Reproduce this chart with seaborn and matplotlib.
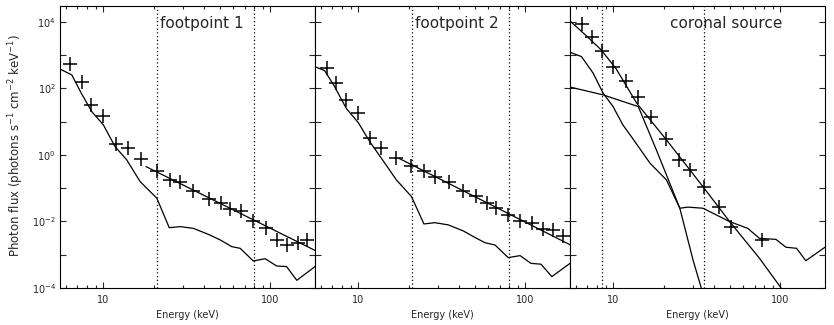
import math
import matplotlib
matplotlib.use("Agg")
import matplotlib.pyplot as plt
import seaborn as sns
from matplotlib.ticker import LogLocator, FuncFormatter, NullFormatter, NullLocator

# ---- footpoint 1 ----
fp1_energy = [6.3, 7.5, 8.4, 10.0, 11.9, 14.0, 16.9, 20.9, 25.1, 28.8, 34.6, 43.0,
              50.5, 57.4, 66.5, 79.1, 93.8, 109, 126, 146, 165]
fp1_flux = [546, 153, 32, 14.9, 2.14, 1.63, 0.74, 0.32, 0.177, 0.15, 0.083, 0.0485,
            0.035, 0.0234, 0.020, 0.0106, 0.0064, 0.0028, 0.0020, 0.0022, 0.0028]
fp1_fit_energy = [18, 185]
fp1_fit_flux = [0.445, 0.00135]
fp1_bkg_energy = [5.5, 6.47, 7.43, 8.53, 10.0, 11.75, 13.8, 16.6, 20.9, 24.8, 28.8,
                  34.6, 42.5, 50, 58.7, 65.9, 79, 93, 109, 125, 144, 185]
fp1_bkg_flux = [380, 255, 67, 20, 8, 1.78, 0.71, 0.158, 0.05, 0.0065, 0.007, 0.0062,
                0.0041, 0.0028, 0.00175, 0.00156, 0.00065, 0.00076, 0.00046, 0.00044,
                0.00017, 0.00044]

# ---- footpoint 2 ----
fp2_energy = [6.5, 7.38, 8.47, 10.0, 11.7, 13.7, 16.9, 20.8, 24.6, 28.7, 34.8, 42.5,
              50.6, 58.6, 66.7, 78.9, 93, 109, 127, 146, 167]
fp2_flux = [405, 150, 45, 18.7, 3.2, 1.6, 0.79, 0.48, 0.33, 0.21, 0.158, 0.083,
            0.058, 0.035, 0.025, 0.0157, 0.0106, 0.0092, 0.0058, 0.0055, 0.0037]
fp2_fit_energy = [17.5, 185]
fp2_fit_flux = [0.79, 0.0020]
fp2_bkg_energy = [5.47, 6.28, 7.21, 8.47, 10.0, 11.7, 14.1, 16.9, 20.8, 24.7, 28.7,
                  34.5, 42.5, 49.9, 57.3, 65.8, 78.9, 93, 108, 124, 144, 185]
fp2_bkg_flux = [453, 343, 113, 25, 9.3, 2.5, 0.66, 0.177, 0.056, 0.0084, 0.0092,
                0.0079, 0.0052, 0.0033, 0.0023, 0.00196, 0.00082, 0.00094, 0.00055,
                0.00052, 0.00022, 0.00055]

# ---- coronal source ----
cs_energy = [6.48, 7.43, 8.53, 9.9, 11.9, 14.0, 16.7, 20.8, 24.8, 28.9, 34.8, 42.8,
             50.8, 77.3]
cs_flux = [8500, 3600, 1340, 435, 168, 57, 14.2, 3.03, 0.71, 0.355, 0.111, 0.0279,
           0.007, 0.0028]
cs_total_energy = [5.52, 6.87, 8.45, 10.4, 13.8, 20.8, 34.4, 49.7, 75, 101, 110]
cs_total_flux = [10500, 3870, 1440, 385, 35.9, 2.83, 0.111, 0.0099, 0.00078, 1e-4, 5.5e-5]
cs_comp_energy = [5.37, 8.67, 14.1, 18.1, 25, 30, 33.6, 35]
cs_comp_flux = [113, 64, 28.4, 1.41, 0.025, 0.00069, 1e-4, 3e-5]
cs_bkg_energy = [5.37, 6.44, 7.57, 8.68, 9.96, 11.4, 12.6, 16.6, 20.8, 25, 28, 34.4,
                 49.7, 63.8, 75, 94, 108, 125, 142, 185]
cs_bkg_flux = [1280, 904, 287, 72, 28.4, 8, 4, 0.56, 0.177, 0.025, 0.027, 0.025,
               0.0099, 0.0062, 0.0031, 0.0029, 0.00168, 0.00156, 0.00066, 0.00168]

panel_titles = ["footpoint 1", "footpoint 2", "coronal source"]
fit_ranges = [[21, 80], [21, 80], [8.5, 35]]

# style: IDL-like, ticks inward on every side
sns.set_style("ticks", rc={
    "xtick.direction": "in", "ytick.direction": "in",
    "xtick.top": True, "ytick.right": True,
    "axes.linewidth": 1.0, "axes.edgecolor": "black",
})
plt.rcParams["font.family"] = ["DejaVu Sans"]
plt.rcParams["mathtext.default"] = "regular"

fig = plt.figure(figsize=(8.34, 3.25), dpi=100)
W, H = 834, 325

panels = [
    (fp1_energy, fp1_flux, [(fp1_fit_energy, fp1_fit_flux), (fp1_bkg_energy, fp1_bkg_flux)]),
    (fp2_energy, fp2_flux, [(fp2_fit_energy, fp2_fit_flux), (fp2_bkg_energy, fp2_bkg_flux)]),
    (cs_energy, cs_flux, [(cs_total_energy, cs_total_flux), (cs_comp_energy, cs_comp_flux),
                          (cs_bkg_energy, cs_bkg_flux)]),
]


def ylab(v, pos):
    e = int(round(math.log10(v)))
    return r"$10^{%d}$" % e if e % 2 == 0 else ""


for i, (en, fl, lines) in enumerate(panels):
    left_px = 60 + 255 * i
    ax = fig.add_axes([left_px / W, 37 / H, 255 / W, 282 / H])
    ax.set_xscale("log")
    ax.set_yscale("log")
    ax.set_xlim(5.5, 185)
    ax.set_ylim(1e-4, 3e4)

    for le, lf in lines:
        sns.lineplot(x=le, y=lf, ax=ax, color="black", linewidth=0.9,
                     estimator=None, sort=False)
    sns.scatterplot(x=en, y=fl, ax=ax, marker="+", s=90, color="black",
                    linewidth=1.1, zorder=5)
    for xv in fit_ranges[i]:
        ax.axvline(xv, color="black", linestyle=(0, (1, 2)), linewidth=0.9)

    ax.text(0.392, 0.937, panel_titles[i], transform=ax.transAxes,
            fontsize=11, ha="left", va="center")

    ax.yaxis.set_major_locator(LogLocator(base=10, numticks=20))
    ax.yaxis.set_minor_locator(NullLocator())
    if i == 0:
        ax.yaxis.set_major_formatter(FuncFormatter(ylab))
    else:
        ax.yaxis.set_major_formatter(NullFormatter())
    ax.xaxis.set_major_locator(LogLocator(base=10))
    ax.xaxis.set_minor_locator(LogLocator(base=10, subs=range(2, 10)))
    ax.xaxis.set_minor_formatter(NullFormatter())
    ax.xaxis.set_major_formatter(FuncFormatter(lambda v, p: "%d" % round(v)))
    ax.tick_params(axis="both", which="major", length=4.5, width=0.8,
                   labelsize=7, pad=5)
    ax.tick_params(axis="x", which="minor", length=2.5, width=0.8)
    ax.tick_params(axis="y", which="major", pad=3)
    ax.set_xlabel("Energy (keV)", fontsize=7, labelpad=4)
    ax.set_ylabel("")

fig.text(16 / W, 1 - 146 / H,
         r"Photon flux (photons s$^{-1}$ cm$^{-2}$ keV$^{-1}$)",
         rotation=90, ha="center", va="center", fontsize=8.5)

fig.savefig("out.png", dpi=100)
